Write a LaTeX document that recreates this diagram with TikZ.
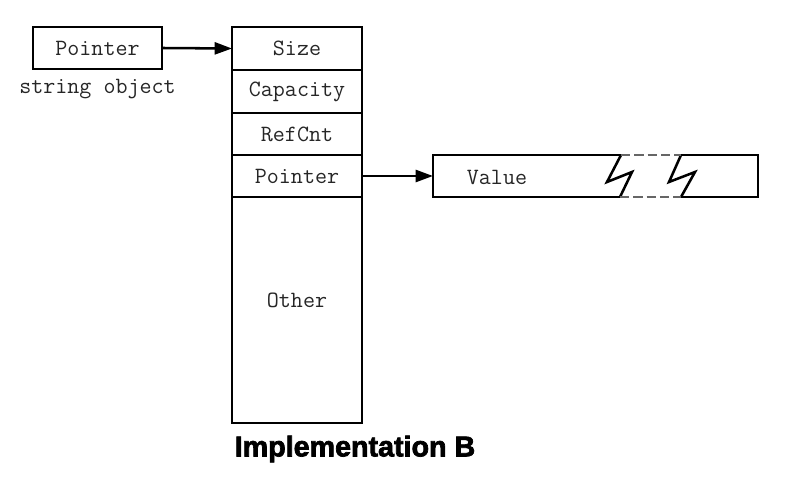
\documentclass[tikz,border=0pt]{standalone}
\usepackage{fontspec}
\usetikzlibrary{arrows.meta}
\newfontface\heavyfont{Liberation Sans Bold}[FakeBold=2.5]
\begin{document}
\begin{tikzpicture}[x=0.75pt,y=-0.75pt,
  line width=1.9pt,
  lbl/.style={font=\ttfamily\fontsize{17.5}{20}\selectfont, text=black!85},
  cell/.style={draw, lbl, minimum width=97.5pt, inner sep=0pt, outer sep=0pt, anchor=center},
  ptr/.style={-{Triangle[length=13pt,width=9pt]}},
]
\useasboundingbox (0,0) rectangle (785,477);
% string object
\node[cell, minimum width=96.75pt, minimum height=31.5pt] (sp) at (97.5,48) {Pointer};
\node[lbl, anchor=north] (strobj) at (97.5,74) {string object};
% column
\node[cell, minimum height=32.25pt] (size) at (297,48.5) {Size};
\node[cell, minimum height=32.25pt] (cap) at (297,91.5) {Capacity};
\node[cell, minimum height=31.5pt] (ref) at (297,134) {RefCnt};
\node[cell, minimum height=31.5pt] (ptr) at (297,176) {Pointer};
\node[cell, minimum height=169.5pt] (other) at (297,310) {};
\node[lbl] (othertxt) at (297,300) {Other};
\node[font=\heavyfont\fontsize{21.5}{24}\selectfont, anchor=center] (caption) at (355,449) {Implementation B};
% value box
\node[inner sep=0pt, outer sep=0pt, minimum width=243.75pt, minimum height=31.5pt] (value) at (595.5,176) {};
\node[lbl] (valtxt) at (497,177) {Value};
\coordinate (z1t) at (621,155);
\coordinate (z1b) at (620,197);
\coordinate (z2t) at (681,155);
\coordinate (z2b) at (681,197);
\draw (z1t) -- (value.north west) -- (value.south west) -- (z1b);
\draw (z1t) -- (607,182) -- (632,172) -- (z1b);
\draw (z2t) -- (669,182) -- (695,172) -- (z2b);
\draw (z2t) -- (value.north east) -- (value.south east) -- (z2b);
\draw[black!60, dash pattern=on 7pt off 3pt] (z1t) -- (z2t);
\draw[black!60, dash pattern=on 7pt off 3pt] (z1b) -- (z2b);
% arrows
\draw[ptr] (sp.east) -- (size.west);
\draw[ptr] (ptr.east) -- (value.west);
\end{tikzpicture}
\end{document}
